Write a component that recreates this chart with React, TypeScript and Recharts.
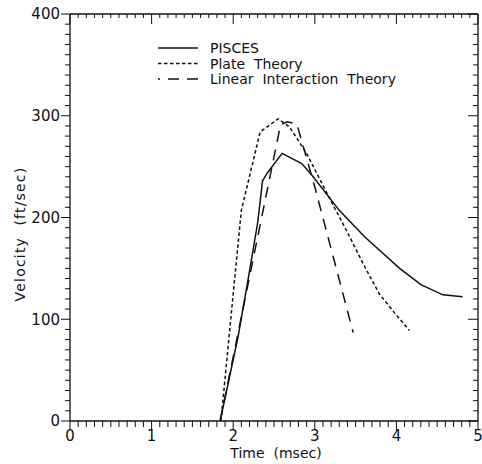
import { LineChart, Line, XAxis, YAxis, Legend } from "recharts";

// values (time in msec, velocity in ft/sec)
const piscesTime = [1.84, 2.06, 2.18, 2.3, 2.36, 2.42, 2.6, 2.84, 2.97, 3.3, 3.61, 4.04, 4.3, 4.57, 4.81];
const piscesVel = [0, 83, 138, 195, 236, 244, 263, 253, 241, 207, 181, 150, 134, 124, 122];

const plateTime = [1.85, 2.0, 2.1, 2.33, 2.55, 2.69, 2.9, 3.18, 3.39, 3.59, 3.79, 3.98, 4.16];
const plateVel = [0, 125, 207, 284, 297, 289, 263, 219, 187, 155, 125, 106, 89];

const linearTime = [1.84, 2.58, 2.66, 2.78, 3.0, 3.47];
const linearVel = [0, 291, 294, 292, 230, 87];

const xMajor = [0, 1, 2, 3, 4, 5];
const yMajor = [0, 100, 200, 300, 400];

const legendNames = ["PISCES", "Plate  Theory", "Linear  Interaction  Theory"];
const dashes = ["0", "3.5 2.5", "11 8"];

const xMinor = Array.from({ length: 51 }, (_, i) => i / 10);
const yMinor = Array.from({ length: 41 }, (_, i) => i * 10);

const toRows = (t: number[], v: number[]) => t.map((time, i) => ({ t: time, v: v[i] }));
const pisces = toRows(piscesTime, piscesVel);
const plate = toRows(plateTime, plateVel);
const linear = toRows(linearTime, linearVel);

const FONT = "DejaVu Sans";
const INK = "#111";

const isMajorX = (v: number) => xMajor.some((m) => Math.abs(m - v) < 1e-6);
const isMajorY = (v: number) => yMajor.some((m) => Math.abs(m - v) < 1e-6);

// eslint-disable-next-line @typescript-eslint/no-explicit-any
function BottomTick({ x, y, payload }: any) {
  const major = isMajorX(payload.value);
  return (
    <g>
      <line x1={x} x2={x} y1={y} y2={y + (major ? 9 : 6)} stroke={INK} />
      {major && (
        <text x={x} y={y + 20.3} textAnchor="middle" fontSize={15} fontFamily={FONT} fill={INK}>
          {Math.round(payload.value)}
        </text>
      )}
    </g>
  );
}

// eslint-disable-next-line @typescript-eslint/no-explicit-any
function TopTick({ x, y, payload }: any) {
  const major = isMajorX(payload.value);
  return <line x1={x} x2={x} y1={y} y2={y + (major ? 10 : 4)} stroke={INK} />;
}

// eslint-disable-next-line @typescript-eslint/no-explicit-any
function LeftTick({ x, y, payload }: any) {
  const major = isMajorY(payload.value);
  return (
    <g>
      <line x1={x} x2={x - (major ? 9 : 5)} y1={y} y2={y} stroke={INK} />
      {major && (
        <text x={x - 10} y={y} dy="0.36em" textAnchor="end" fontSize={15} fontFamily={FONT} fill={INK}>
          {payload.value}
        </text>
      )}
    </g>
  );
}

// eslint-disable-next-line @typescript-eslint/no-explicit-any
function RightTick({ x, y, payload }: any) {
  const major = isMajorY(payload.value);
  return <line x1={x} x2={x - (major ? 10 : 5)} y1={y} y2={y} stroke={INK} />;
}

function LegendBox() {
  return (
    <svg width={270} height={52}>
      {legendNames.map((name, i) => {
        const cy = 10 + i * 15.5;
        return (
          <g key={name}>
            <line
              x1={8}
              x2={48}
              y1={cy}
              y2={cy}
              stroke={INK}
              strokeWidth={1.4}
              strokeDasharray={dashes[i]}
              strokeDashoffset={i === 2 ? 9 : 0}
            />
            <text x={60} y={cy + 5} fontSize={14} fontFamily={FONT} fill={INK} style={{ whiteSpace: "pre" }}>
              {name}
            </text>
          </g>
        );
      })}
    </svg>
  );
}

export default function App() {
  return (
    <div style={{ position: "absolute", left: 0, top: 0, background: "#fff" }}>
      <LineChart width={482} height={464} margin={{ top: 4, right: 0, bottom: 0, left: 0 }}>
        <XAxis
          xAxisId="b"
          type="number"
          dataKey="t"
          domain={[0, 5]}
          ticks={xMinor}
          interval={0}
          height={43}
          tickSize={0}
          tickMargin={0}
          tickLine={false}
          axisLine={{ stroke: INK, strokeWidth: 1.3 }}
          tick={<BottomTick />}
          allowDataOverflow
          label={{
            content: () => (
              <text x={276} y={458.3} textAnchor="middle" fontSize={14} fontFamily={FONT} fill={INK} style={{ whiteSpace: "pre" }}>
                Time  (msec)
              </text>
            ),
          }}
        />
        <XAxis
          xAxisId="t"
          orientation="top"
          type="number"
          dataKey="t"
          domain={[0, 5]}
          ticks={xMinor}
          interval={0}
          height={10}
          tickSize={0}
          tickMargin={0}
          tickLine={false}
          axisLine={{ stroke: INK, strokeWidth: 1.3 }}
          tick={<TopTick />}
          allowDataOverflow
        />
        <YAxis
          yAxisId="l"
          type="number"
          domain={[0, 400]}
          ticks={yMinor}
          interval={0}
          width={70}
          tickSize={0}
          tickMargin={0}
          tickLine={false}
          axisLine={{ stroke: INK, strokeWidth: 1.3 }}
          tick={<LeftTick />}
          allowDataOverflow
          label={{
            content: () => (
              <text
                x={25}
                y={234}
                transform="rotate(-90 25 234)"
                textAnchor="middle"
                fontSize={14}
                fontFamily={FONT}
                fill={INK}
                letterSpacing={1.2}
                style={{ whiteSpace: "pre" }}
              >
                Velocity  (ft/sec)
              </text>
            ),
          }}
        />
        <YAxis
          yAxisId="r"
          orientation="right"
          type="number"
          domain={[0, 400]}
          ticks={yMinor}
          interval={0}
          width={4}
          tickSize={0}
          tickMargin={0}
          tickLine={false}
          axisLine={{ stroke: INK, strokeWidth: 1.3 }}
          tick={<RightTick />}
          allowDataOverflow
        />
        <Legend
          layout="horizontal"
          verticalAlign="middle"
          align="center"
          content={<LegendBox />}
          wrapperStyle={{ position: "absolute", left: 150, top: 38, width: 270, height: 52 }}
        />
        <Line
          xAxisId="b"
          yAxisId="l"
          data={pisces}
          dataKey="v"
          name="PISCES"
          type="linear"
          stroke={INK}
          strokeWidth={1.5}
          dot={false}
          isAnimationActive={false}
        />
        <Line
          xAxisId="b"
          yAxisId="l"
          data={plate}
          dataKey="v"
          name="Plate Theory"
          type="linear"
          stroke={INK}
          strokeWidth={1.5}
          strokeDasharray={dashes[1]}
          dot={false}
          isAnimationActive={false}
        />
        <Line
          xAxisId="b"
          yAxisId="l"
          data={linear}
          dataKey="v"
          name="Linear Interaction Theory"
          type="linear"
          stroke={INK}
          strokeWidth={1.5}
          strokeDasharray={dashes[2]}
          dot={false}
          isAnimationActive={false}
        />
      </LineChart>
    </div>
  );
}
